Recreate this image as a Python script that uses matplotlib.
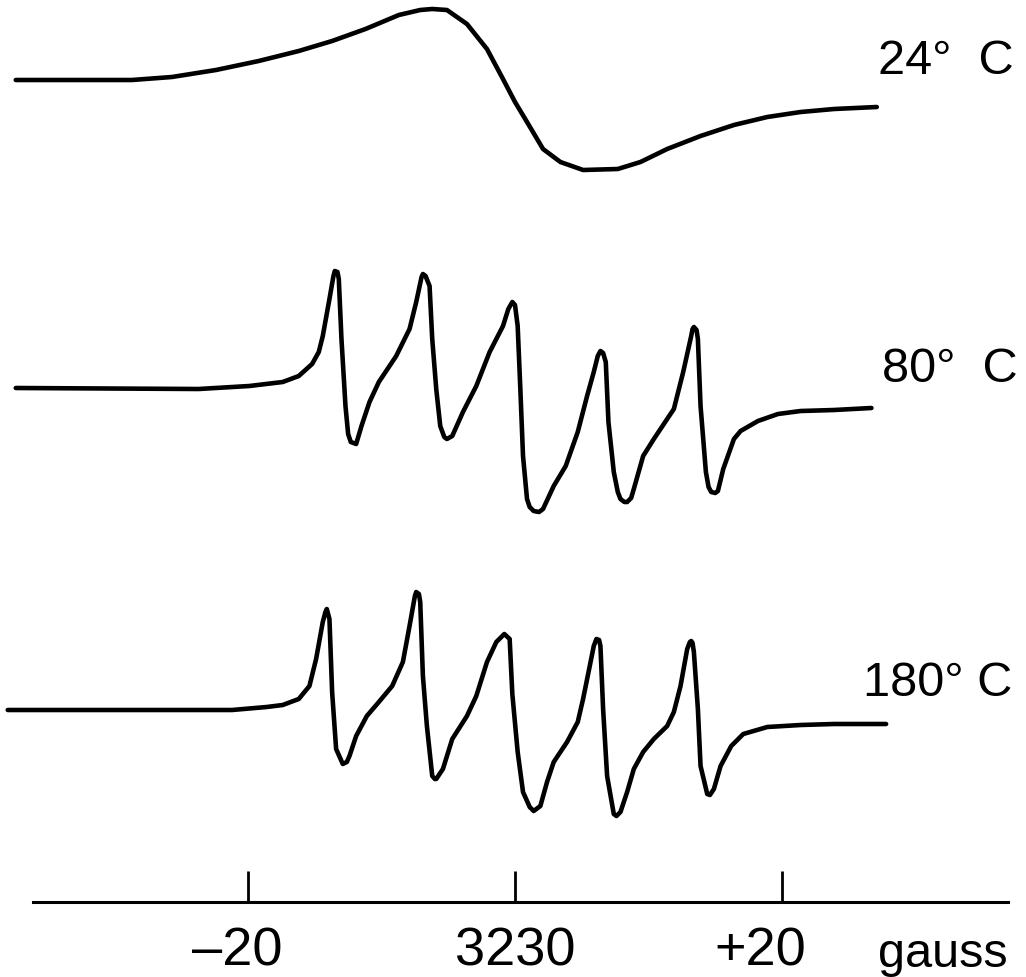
import numpy as np
import matplotlib
matplotlib.use('Agg')
import matplotlib.pyplot as plt
from matplotlib.transforms import ScaledTranslation

plt.rcParams['font.family'] = ['Liberation Sans', 'DejaVu Sans']

# field offsets from 3230 gauss, signal in arbitrary units
field_24 = [-37.4, -28.7, -25.7, -22.4, -19.2, -16.2, -13.7, -11.2, -8.7, -7.1,
            -6.2, -5.1, -3.6, -2.1, -0.9, 0.0, 0.9, 2.1, 3.4, 5.1,
            7.7, 9.4, 11.4, 13.9, 16.4, 18.9, 21.4, 23.9, 27.1]
signal_24 = [0.0, 0.0, 0.3, 1.0, 1.9, 2.9, 3.9, 5.1, 6.5, 7.0,
             7.1, 7.0, 5.6, 3.1, 0.1, -2.2, -4.2, -6.9, -8.2, -9.0,
             -8.9, -8.2, -6.9, -5.6, -4.5, -3.7, -3.2, -2.9, -2.7]

field_80 = [-37.4, -23.7, -19.9, -17.4, -16.2, -15.2, -14.7, -14.4, -13.9, -13.6,
            -13.5, -13.3, -13.2, -13.0, -12.7, -12.5, -12.3, -11.9, -11.5, -10.9,
            -10.2, -8.9, -7.9, -7.4, -7.0, -6.9, -6.7, -6.4, -6.2, -5.9,
            -5.6, -5.3, -5.1, -4.7, -3.9, -2.9, -1.9, -0.9, -0.5, -0.2,
            0.0, 0.2, 0.4, 0.6, 0.9, 1.1, 1.4, 1.8, 2.1, 2.9,
            3.8, 4.7, 5.4, 5.9, 6.2, 6.4, 6.6, 6.8, 7.0, 7.4,
            7.7, 7.9, 8.2, 8.4, 8.7, 8.9, 9.6, 10.4, 11.4, 11.9,
            12.6, 13.2, 13.3, 13.4, 13.6, 13.7, 13.9, 14.3, 14.5, 14.7,
            15.0, 15.2, 15.6, 16.4, 16.9, 18.2, 19.7, 21.4, 23.9, 26.7]
signal_80 = [0.0, -0.1, 0.2, 0.6, 1.2, 2.4, 3.6, 5.2, 8.9, 11.2,
             11.7, 11.6, 10.9, 4.9, -1.8, -4.6, -5.4, -5.6, -3.8, -1.4,
             0.6, 3.2, 5.9, 8.6, 11.1, 11.4, 11.2, 10.2, 4.9, -0.1,
             -3.8, -4.9, -5.1, -4.8, -2.4, 0.2, 3.6, 6.2, 7.9, 8.6,
             8.3, 6.2, -0.1, -6.8, -11.1, -11.9, -12.3, -12.4, -12.1, -9.8,
             -7.8, -4.4, -0.8, 1.6, 3.2, 3.7, 3.5, 2.6, -3.4, -8.4,
             -10.4, -11.1, -11.4, -11.4, -11.0, -10.1, -6.8, -5.1, -3.1, -2.1,
             1.6, 5.2, 5.9, 6.1, 5.8, 4.9, -1.8, -8.4, -9.9, -10.4,
             -10.5, -10.3, -8.1, -5.1, -4.3, -3.3, -2.6, -2.3, -2.2, -2.0]

field_180 = [-38.0, -21.2, -18.6, -17.4, -16.2, -15.4, -14.9, -14.4, -14.2, -14.1,
             -13.9, -13.7, -13.4, -12.9, -12.6, -12.4, -11.9, -11.1, -10.2, -9.2,
             -8.4, -7.9, -7.5, -7.4, -7.2, -7.1, -6.9, -6.6, -6.2, -6.0,
             -5.9, -5.4, -4.7, -3.6, -2.9, -2.1, -1.4, -0.8, -0.4, -0.2,
             0.2, 0.6, 1.1, 1.4, 1.9, 2.4, 2.9, 3.9, 4.7, 5.1,
             5.6, 5.9, 6.1, 6.3, 6.4, 6.6, 6.9, 7.4, 7.6, 7.9,
             8.4, 8.9, 9.6, 10.4, 11.4, 11.9, 12.4, 12.9, 13.1, 13.2,
             13.3, 13.4, 13.7, 13.9, 14.4, 14.6, 14.9, 15.4, 16.2, 17.1,
             18.9, 21.4, 23.9, 27.8]
signal_180 = [0.0, 0.0, 0.3, 0.5, 1.1, 2.4, 5.1, 8.8, 9.8, 10.1,
              9.1, 1.8, -3.9, -5.4, -5.2, -4.6, -2.6, -0.6, 0.8, 2.4,
              4.8, 8.4, 11.4, 11.8, 11.6, 10.8, 3.4, -1.6, -6.6, -6.9,
              -6.9, -5.9, -2.9, -0.6, 1.4, 4.8, 6.8, 7.6, 7.1, 1.6,
              -4.2, -8.2, -9.7, -10.1, -9.6, -7.2, -5.2, -3.2, -1.2, 1.1,
              4.4, 6.4, 7.1, 7.0, 6.4, 0.1, -6.6, -10.4, -10.6, -10.2,
              -8.2, -5.9, -4.2, -2.9, -1.6, -0.2, 2.4, 6.1, 6.8, 6.9,
              6.7, 5.8, 0.1, -5.6, -8.4, -8.5, -7.9, -5.6, -3.6, -2.4,
              -1.7, -1.5, -1.4, -1.4]

temps = ['24°  C', '80°  C', '180° C']
offsets = [89.7, 58.9, 26.7]
label_pos = [(27.2, 91.6), (27.5, 60.8), (26.1, 29.4)]

tick_vals = [-20, 0, 20]
tick_labels = ['\u201320', '3230', '+20']
label_shift_pt = [-8, 0, -16]

fig = plt.figure(figsize=(10.26, 9.78), dpi=100)
ax = fig.add_axes([0, 0, 1, 1])

traces = [(field_24, signal_24), (field_80, signal_80), (field_180, signal_180)]
for (f, s), off in zip(traces, offsets):
    ax.plot(f, np.array(s) + off, color='black', lw=3.3,
            solid_joinstyle='round', solid_capstyle='round')

for t, (x, y) in zip(temps, label_pos):
    ax.text(x, y, t, fontsize=35, ha='left', va='center')

ax.set_xlim(-38.58, 38.28)
ax.set_ylim(0, 97.8)

for side in ['top', 'left', 'right']:
    ax.spines[side].set_visible(False)
ax.spines['bottom'].set_position(('data', 7.5))
ax.spines['bottom'].set_bounds(-36.1, 36.9)
ax.spines['bottom'].set_linewidth(2.2)
ax.set_yticks([])
ax.set_xticks(tick_vals)
ax.set_xticklabels(tick_labels)
ax.tick_params(axis='x', direction='in', length=22, width=2, pad=17,
               labelsize=39)
for lab, dx in zip(ax.get_xticklabels(), label_shift_pt):
    lab.set_transform(lab.get_transform() +
                      ScaledTranslation(dx / 72, 0, fig.dpi_scale_trans))
ax.text(27.2, 1.1, 'gauss', fontsize=35, ha='left', va='baseline')

fig.savefig('out.png', dpi=100)
